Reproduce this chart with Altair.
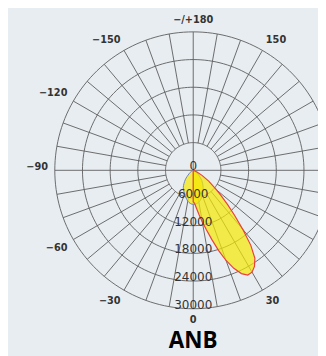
import math
import altair as alt
import pandas as pd

# ---- data (angle in degrees: 0 = straight down, + towards the right) ----
RED_ANGLES = [-5, 0, 2.5, 5, 7.5, 10, 12.5, 15, 17.5, 20, 22.5, 25, 27.5, 30, 32.5, 35,
              37.5, 40, 42.5, 45, 47.5, 50, 55, 60, 65, 70]
RED_VALUES = [0, 6800, 7200, 8300, 9700, 11300, 13200, 15500, 18200, 20800, 23000, 24700,
              25600, 25500, 24700, 23300, 20500, 16700, 13300, 10600, 8300, 6600, 4100,
              2200, 900, 0]
BLUE_ANGLES = [-90, -70, -60, -50, -40, -30, -20, -10, 0, 10, 20, 30, 40, 50, 60, 70, 90]
BLUE_VALUES = [0, 100, 500, 1200, 2700, 4300, 5400, 6800, 7400, 7000, 5800, 4300, 2900,
               1500, 500, 100, 0]
RING_VALUES = [6000, 12000, 18000, 24000, 30000]
RADIAL_LABEL_VALUES = [0, 6000, 12000, 18000, 24000, 30000]
RADIAL_LABELS = ["0", "6000", "12000", "18000", "24000", "30000"]
ANGLE_TICKS = [0, 30, 60, 90, 120, 150, 180, -150, -120, -90, -60, -30]
ANGLE_LABELS = ["0", "30", "60", "90", "120", "150", "\u2212/+180", "\u2212150", "\u2212120",
                "\u221290", "\u221260", "\u221230"]
SPOKE_ANGLES = list(range(0, 360, 10))
TITLE = "ANB"

# ---- geometry ----
W, H = 318, 348
CX, CY = 190, 162
R_PX = 142
R_MAX = 30000
K = R_PX / R_MAX
LABEL_R = 149 / K
BG = "#e8edf1"
GRID = "#5a5a5a"


def polar(r, a):
    t = math.radians(a)
    return r * math.sin(t), -r * math.cos(t)


x_scale = alt.Scale(domain=[-CX / K, (W - CX) / K], nice=False, zero=False)
y_scale = alt.Scale(domain=[-(H - CY) / K, CY / K], nice=False, zero=False)


def enc_xy():
    return dict(
        x=alt.X("x:Q", scale=x_scale, axis=None),
        y=alt.Y("y:Q", scale=y_scale, axis=None),
    )


# rings
ring_rows = []
for rv in RING_VALUES:
    for i, a in enumerate(range(0, 361, 2)):
        x, y = polar(rv, a)
        ring_rows.append({"ring": rv, "i": i, "x": x, "y": y})
rings = alt.Chart(pd.DataFrame(ring_rows)).mark_line(
    color=GRID, strokeWidth=0.9
).encode(**enc_xy(), detail="ring:N", order="i:Q")

# spokes
spoke_rows = []
for a in SPOKE_ANGLES:
    r0 = 0 if a % 90 == 0 else RING_VALUES[0]
    x0, y0 = polar(r0, a)
    x1, y1 = polar(R_MAX, a)
    spoke_rows.append({"a": a, "x": x0, "y": y0, "x2": x1, "y2": y1})
spokes = alt.Chart(pd.DataFrame(spoke_rows)).mark_rule(
    color=GRID, strokeWidth=0.9
).encode(**enc_xy(), x2="x2:Q", y2="y2:Q")


def curve_df(angles, values):
    rows = []
    for i, (a, v) in enumerate(zip(angles, values)):
        x, y = polar(v, a)
        rows.append({"i": i, "x": x, "y": y})
    return pd.DataFrame(rows)


blue = alt.Chart(curve_df(BLUE_ANGLES, BLUE_VALUES)).mark_line(
    fill="#f5e800", fillOpacity=0.7, stroke="#6b7fc4", strokeWidth=1.0,
    interpolate="cardinal-closed"
).encode(**enc_xy(), order="i:Q")

red = alt.Chart(curve_df(RED_ANGLES, RED_VALUES)).mark_line(
    fill="#f5e800", fillOpacity=0.7, stroke="#e8413c", strokeWidth=1.2
).encode(**enc_xy(), order="i:Q")

# radial labels
rl_rows = []
for v, lab in zip(RADIAL_LABEL_VALUES, RADIAL_LABELS):
    x, y = polar(v, 0)
    rl_rows.append({"x": x, "y": y, "label": lab})
radial_labels = alt.Chart(pd.DataFrame(rl_rows)).mark_text(
    align="center", baseline="alphabetic", font="DejaVu Sans", fontSize=12.3,
    color="#333333"
).encode(**enc_xy(), text="label:N")

# angle labels
al_rows = []
for a, lab in zip(ANGLE_TICKS, ANGLE_LABELS):
    x, y = polar(LABEL_R, a)
    s = math.sin(math.radians(a))
    c = -math.cos(math.radians(a))
    align = "center" if abs(s) < 1e-6 else ("left" if s > 0 else "right")
    vpos = "mid" if abs(c) < 1e-6 else ("up" if c > 0 else "down")
    al_rows.append({"x": x, "y": y, "label": lab, "key": align + "|" + vpos})
al_df = pd.DataFrame(al_rows)
DY = {"up": -5, "down": 5, "mid": -3}
angle_layers = []
for key in al_df["key"].unique():
    align, vpos = key.split("|")
    angle_layers.append(
        alt.Chart(al_df[al_df["key"] == key]).mark_text(
            align=align, baseline="middle", dy=DY[vpos], font="DejaVu Sans",
            fontSize=10, fontWeight="bold", color="#333333"
        ).encode(**enc_xy(), text="label:N")
    )

title = alt.Chart(pd.DataFrame({"t": [TITLE]})).mark_text(
    align="center", baseline="alphabetic", font="Open Sans", fontSize=23,
    fontWeight="bold", color="#000000"
).encode(x=alt.value(CX), y=alt.value(344), text="t:N")

chart = alt.layer(rings, spokes, blue, red, radial_labels, *angle_layers, title).properties(
    width=W, height=H, padding=0, autosize="none", background=BG
).configure_view(strokeWidth=0)

chart.save("out.html", embed_options={"renderer": "svg", "actions": False})
